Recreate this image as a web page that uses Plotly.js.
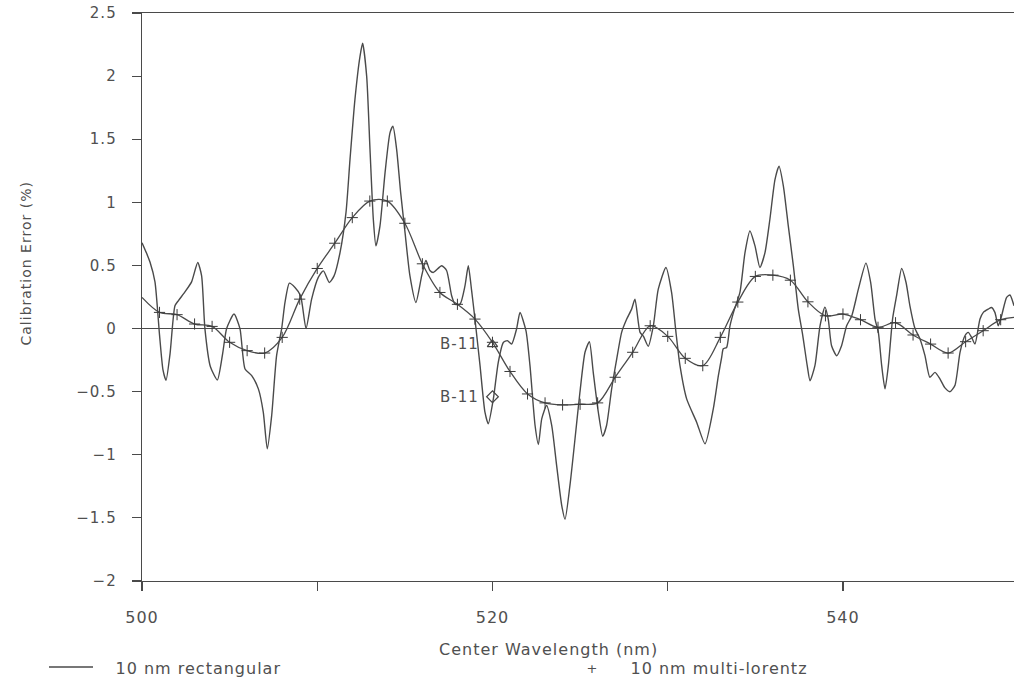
<!DOCTYPE html>
<html>
<head>
<meta charset="utf-8">
<script src="https://cdn.plot.ly/plotly-3.0.1.min.js"></script>
<style>
html, body { margin: 0; padding: 0; background: #fff; }
#chart { width: 1014px; height: 681px; }
#chart svg text { letter-spacing: 1px; }
</style>
</head>
<body>
<div id="chart"></div>
<script>
// 10 nm rectangular (solid line)
const rectWave = [500.00,500.25,500.46,500.74,501.00,501.20,501.37,501.60,501.88,502.07,502.45,502.83,503.18,503.40,503.59,503.90,504.30,504.60,504.83,505.25,505.59,505.88,506.26,506.64,506.92,507.15,507.40,507.68,507.97,508.16,508.41,508.73,509.05,509.36,509.68,510.06,510.35,510.69,510.96,511.30,511.64,511.87,512.15,512.44,512.59,512.82,513.01,513.20,513.35,513.58,513.87,514.15,514.32,514.53,514.76,515.01,515.29,515.63,515.96,516.20,516.43,516.62,517.10,517.38,517.67,517.86,518.15,518.43,518.62,518.81,519.00,519.29,519.57,519.76,520.05,520.33,520.62,520.85,521.09,521.38,521.57,521.91,522.14,522.43,522.62,522.81,523.09,523.38,523.66,523.95,524.14,524.42,524.71,524.99,525.28,525.53,525.75,526.04,526.29,526.51,526.80,527.09,527.37,527.66,527.94,528.13,528.42,528.61,528.89,529.18,529.46,529.90,530.22,530.47,530.70,531.08,531.65,532.13,532.60,532.89,533.08,533.17,533.36,533.55,533.80,534.12,534.41,534.69,534.98,535.26,535.55,535.83,536.12,536.35,536.60,536.88,537.17,537.45,537.70,537.96,538.12,538.40,538.69,538.97,539.16,539.35,539.64,539.92,540.21,540.50,540.88,541.31,541.58,541.83,542.02,542.21,542.40,542.59,542.83,543.06,543.35,543.60,543.82,544.11,544.39,544.68,544.96,545.25,545.54,545.82,546.11,546.39,546.68,546.96,547.15,547.34,547.53,547.82,548.01,548.29,548.48,548.67,548.86,549.05,549.34,549.53,549.76];
const rectErr = [0.68,0.60,0.525,0.37,-0.05,-0.33,-0.41,-0.20,0.18,0.22,0.29,0.37,0.523,0.42,0.0,-0.30,-0.407,-0.20,0.0,0.115,0.0,-0.32,-0.373,-0.478,-0.662,-0.953,-0.689,-0.215,0.0,0.207,0.36,0.326,0.26,0.0,0.233,0.405,0.457,0.365,0.417,0.602,0.918,1.34,1.814,2.157,2.26,2.0,1.42,0.866,0.655,0.813,1.235,1.55,1.603,1.42,1.077,0.76,0.417,0.207,0.417,0.54,0.46,0.444,0.497,0.46,0.26,0.194,0.194,0.338,0.497,0.30,0.075,-0.294,-0.663,-0.755,-0.557,-0.267,-0.11,-0.096,-0.123,0.0,0.128,-0.017,-0.294,-0.768,-0.918,-0.715,-0.61,-0.768,-1.084,-1.40,-1.511,-1.243,-0.873,-0.505,-0.188,-0.104,-0.347,-0.663,-0.853,-0.768,-0.478,-0.241,-0.03,0.075,0.154,0.233,-0.03,-0.06,-0.14,0.022,0.312,0.484,0.286,-0.03,-0.294,-0.557,-0.742,-0.913,-0.636,-0.373,-0.227,-0.16,-0.15,0.02,0.15,0.286,0.602,0.773,0.655,0.484,0.602,0.866,1.18,1.287,1.129,0.813,0.497,0.154,-0.05,-0.294,-0.413,-0.294,0.022,0.17,0.075,-0.136,-0.215,-0.136,0.022,0.10,0.312,0.518,0.365,0.075,-0.03,-0.294,-0.478,-0.294,0.075,0.26,0.476,0.365,0.18,0.0,-0.08,-0.215,-0.386,-0.347,-0.40,-0.47,-0.50,-0.45,-0.188,-0.057,-0.03,-0.07,-0.123,0.075,0.128,0.154,0.167,0.128,0.022,0.10,0.247,0.266,0.18];

// 10 nm multi-lorentz (smooth line with + markers)
const mlWave = [500,501,502,503,504,505,506,507,508,509,510,511,512,513,514,515,516,517,518,519,520,521,522,523,524,525,526,527,528,529,530,531,532,533,534,535,536,537,538,539,540,541,542,543,544,545,546,547,548,549,549.76];
const mlErr = [0.247,0.128,0.110,0.036,0.017,-0.109,-0.175,-0.194,-0.07,0.233,0.476,0.676,0.879,1.01,1.01,0.834,0.513,0.286,0.192,0.075,-0.109,-0.34,-0.518,-0.589,-0.605,-0.60,-0.589,-0.386,-0.188,0.022,-0.062,-0.236,-0.294,-0.07,0.21,0.413,0.423,0.383,0.212,0.101,0.115,0.07,0.01,0.046,-0.051,-0.123,-0.194,-0.104,-0.017,0.07,0.089];

// B-11 reference points
const b11Wave = [520, 520];
const b11Err = [-0.125, -0.54];
const b11Labels = ['B-11', 'B-11'];
const b11Symbols = ['triangle-up-open', 'diamond-open'];

// axis ticks
const xTickVals = [500, 510, 520, 530, 540];
const xTickText = ['500', '', '520', '', '540'];
const yTickVals = [-2, -1.5, -1, -0.5, 0, 0.5, 1, 1.5, 2, 2.5];
const yTickText = ['\u22122', '\u22121.5', '\u22121', '\u22120.5', '0', '0.5', '1', '1.5', '2', '2.5'];

const ink = '#4a4a4a';
const txt = '#505050';
const FONT = 'DejaVu Sans, Liberation Sans, sans-serif';

const mlMarkX = [], mlMarkY = [];
mlWave.forEach((w, i) => { if (Number.isInteger(w) && w > 500) { mlMarkX.push(w); mlMarkY.push(mlErr[i]); } });

const traces = [
  { x: rectWave, y: rectErr, type: 'scatter', mode: 'lines', name: '10 nm rectangular',
    line: { color: ink, width: 1.4, shape: 'spline', smoothing: 0.6 }, showlegend: false },
  { x: mlWave, y: mlErr, type: 'scatter', mode: 'lines', name: '10 nm multi-lorentz',
    line: { color: ink, width: 1.3, shape: 'spline', smoothing: 0.9 }, showlegend: false },
  { x: mlMarkX, y: mlMarkY, type: 'scatter', mode: 'markers', name: '10 nm multi-lorentz',
    marker: { symbol: 'cross-thin-open', size: 8, color: '#3a3a3a', line: { color: '#3a3a3a', width: 1 } }, showlegend: false },
  { x: b11Wave, y: b11Err, type: 'scatter', mode: 'markers', name: 'B-11',
    marker: { symbol: b11Symbols, size: 9, color: '#444', line: { color: '#444', width: 1.2 } }, showlegend: false }
];

const px2x = p => (p - 142) / 872;
const px2y = p => (581 - p) / 568;

const annotations = [
  { text: 'Center Wavelength (nm)', xref: 'paper', yref: 'paper', x: px2x(548), y: px2y(650),
    xanchor: 'center', yanchor: 'middle', showarrow: false, font: { family: FONT, size: 16, color: txt } },
  { text: 'Calibration Error (%)', xref: 'paper', yref: 'paper', x: px2x(26), y: px2y(264),
    xanchor: 'center', yanchor: 'middle', textangle: -90, showarrow: false, font: { family: FONT, size: 14, color: txt } },
  { text: '10 nm rectangular', xref: 'paper', yref: 'paper', x: px2x(122), y: px2y(668),
    xanchor: 'left', yanchor: 'middle', showarrow: false, font: { family: FONT, size: 16, color: txt } },
  { text: '+', xref: 'paper', yref: 'paper', x: px2x(592), y: px2y(668),
    xanchor: 'center', yanchor: 'middle', showarrow: false, font: { family: FONT, size: 13, color: txt } },
  { text: '10 nm multi-lorentz', xref: 'paper', yref: 'paper', x: px2x(638), y: px2y(668),
    xanchor: 'left', yanchor: 'middle', showarrow: false, font: { family: FONT, size: 16, color: txt } }
];
b11Wave.forEach((w, i) => annotations.push({
  text: b11Labels[i], xref: 'x', yref: 'y', x: w, y: b11Err[i], xshift: -13,
  xanchor: 'right', yanchor: 'middle', showarrow: false, font: { family: FONT, size: 15, color: txt }
}));

const layout = {
  width: 1014, height: 681,
  margin: { l: 142, r: 0, t: 13, b: 100 },
  paper_bgcolor: '#fff', plot_bgcolor: '#fff',
  font: { family: FONT, size: 16, color: txt },
  showlegend: false,
  xaxis: {
    range: [500, 549.76], tickvals: xTickVals, ticktext: xTickText,
    ticks: 'outside', ticklen: 9, tickwidth: 1.2, tickcolor: ink,
    showline: true, linecolor: ink, linewidth: 1.3, mirror: true,
    showgrid: false, zeroline: false, ticklabelstandoff: 12,
    tickfont: { family: FONT, size: 16, color: txt }
  },
  yaxis: {
    range: [-2, 2.5], tickvals: yTickVals, ticktext: yTickText,
    ticks: 'outside', ticklen: 9, tickwidth: 1.2, tickcolor: ink,
    showline: true, linecolor: ink, linewidth: 1.3,
    showgrid: false, zeroline: true, zerolinecolor: ink, zerolinewidth: 1.3,
    ticklabelstandoff: 12,
    tickfont: { family: FONT, size: 15, color: txt }
  },
  shapes: [
    { type: 'line', xref: 'paper', yref: 'paper', x0: px2x(49), x1: px2x(93), y0: px2y(667), y1: px2y(667),
      line: { color: ink, width: 1.6 } }
  ],
  annotations: annotations
};

Plotly.newPlot('chart', traces, layout, { displayModeBar: false, staticPlot: true });
</script>
</body>
</html>
